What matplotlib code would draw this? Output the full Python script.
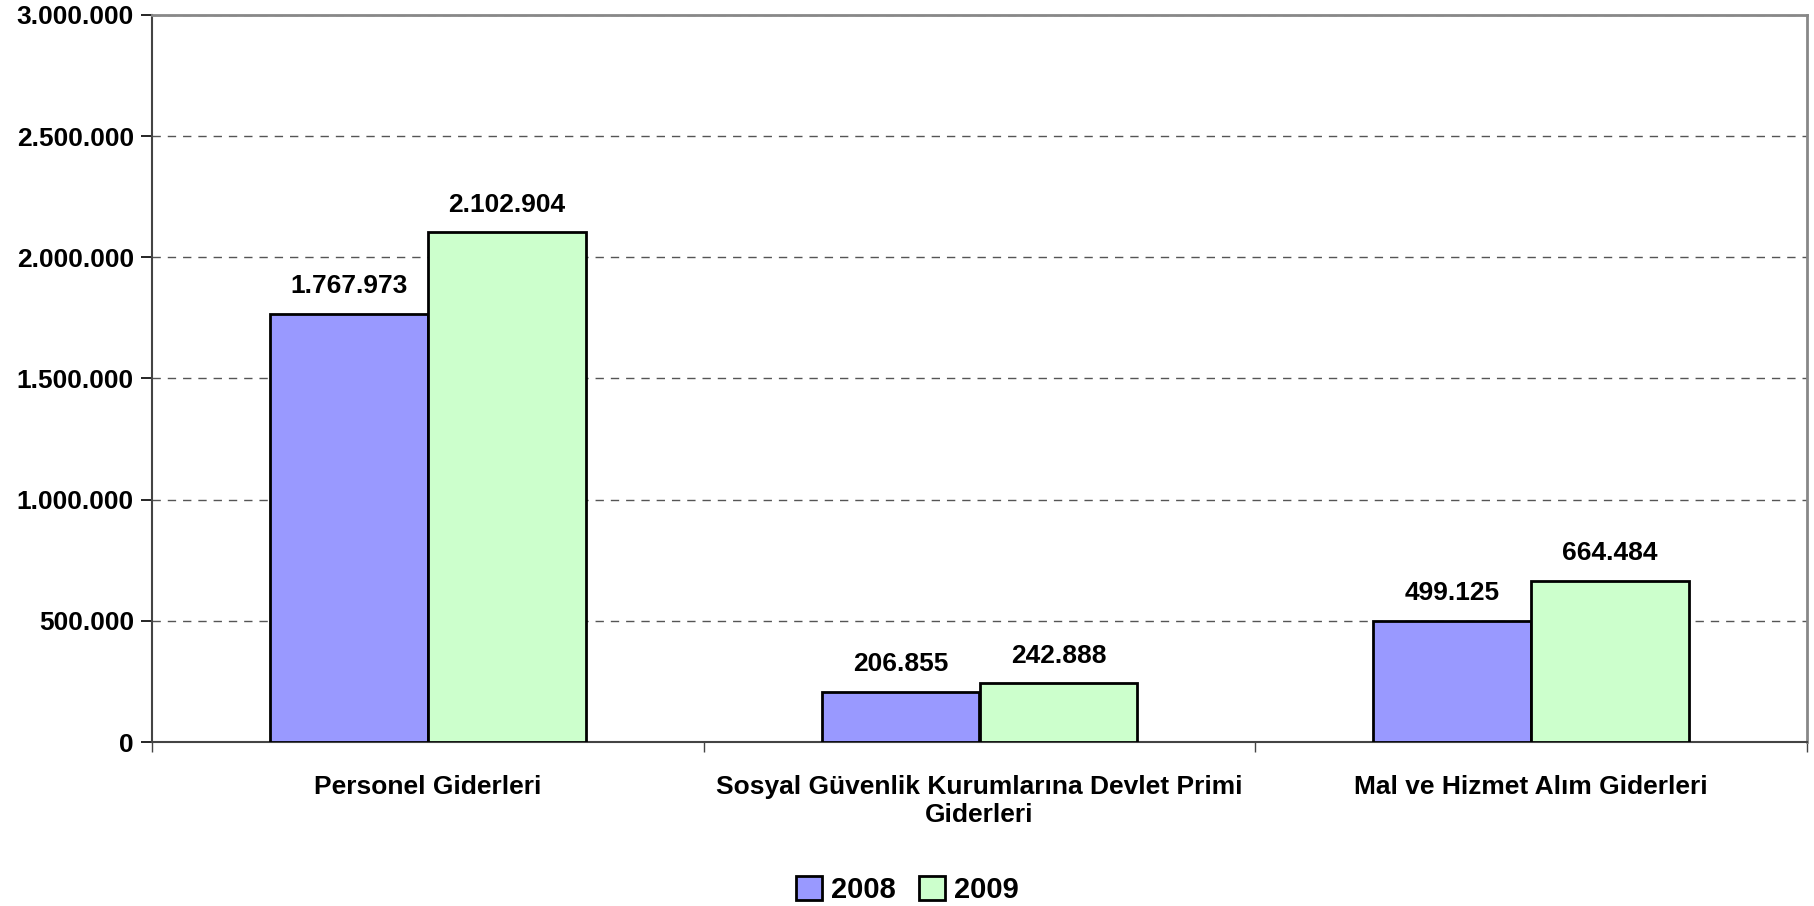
import matplotlib
matplotlib.use('Agg')

import matplotlib.pyplot as plt
from matplotlib.ticker import FuncFormatter
import numpy as np

kategoriler = ["Personel Giderleri",
               "Sosyal Güvenlik Kurumlarına Devlet Primi\nGiderleri",
               "Mal ve Hizmet Alım Giderleri"]
yillar = ["2008", "2009"]
degerler_2008 = [1767973, 206855, 499125]
degerler_2009 = [2102904, 242888, 664484]
renkler = ["#9999ff", "#ccffcc"]


def nokta_format(v, pos=None):
    # Türkçe binlik ayırıcı
    return f"{int(round(v)):,}".replace(",", ".")


plt.rcParams['font.family'] = ['Liberation Sans', 'DejaVu Sans']
plt.rcParams['font.weight'] = 'bold'

fig = plt.figure(figsize=(18.14, 9.06), dpi=100)
ax = fig.add_axes([152 / 1814, 1 - 742 / 906, (1807 - 152) / 1814, (742 - 15) / 906])

x = np.arange(len(kategoriler))
w = 0.286
for i, (vals, yil) in enumerate(zip([degerler_2008, degerler_2009], yillar)):
    pos = x + (i - 0.5) * w
    ax.bar(pos, vals, w, color=renkler[i], edgecolor='black', linewidth=2,
           label=yil, zorder=3)
    for px, v in zip(pos, vals):
        ax.text(px, v + 85000, nokta_format(v), ha='center', va='baseline',
                fontsize=19, fontweight='bold')

ax.set_xlim(-0.5, 2.5)
ax.set_ylim(0, 3000000)
ax.set_yticks(np.arange(0, 3000001, 500000))
ax.yaxis.set_major_formatter(FuncFormatter(nokta_format))
ax.yaxis.grid(True, linestyle=(0, (6, 5)), color='#555555', linewidth=1)
ax.set_axisbelow(True)

ax.set_xticks([-0.5, 0.5, 1.5, 2.5], minor=False)
ax.set_xticklabels([])
ax.set_xticks(x, minor=True)
ax.set_xticklabels(kategoriler, minor=True, fontsize=19, fontweight='bold',
                   linespacing=1.2)
ax.tick_params(axis='x', which='minor', length=0, pad=24)
ax.tick_params(axis='x', which='major', length=7, direction='out', width=1, color='#444444')
ax.tick_params(axis='y', length=8, width=1.2, direction='out', labelsize=19, pad=5)
for lab in ax.get_yticklabels():
    lab.set_fontweight('bold')

ax.spines['top'].set_color('#888888')
ax.spines['right'].set_color('#888888')
ax.spines['top'].set_linewidth(2)
ax.spines['right'].set_linewidth(2)
ax.spines['left'].set_color('#444444')
ax.spines['bottom'].set_color('#444444')
ax.spines['left'].set_linewidth(1.5)
ax.spines['bottom'].set_linewidth(1.5)

fig.legend(loc='center', bbox_to_anchor=(0.5, 1 - 890 / 906), ncol=2, frameon=False,
           prop={'size': 21, 'weight': 'bold'}, handlelength=0.9, handleheight=0.9,
           handletextpad=0.3, columnspacing=0.8)

plt.savefig("out.png", dpi=100)
plt.close(fig)
